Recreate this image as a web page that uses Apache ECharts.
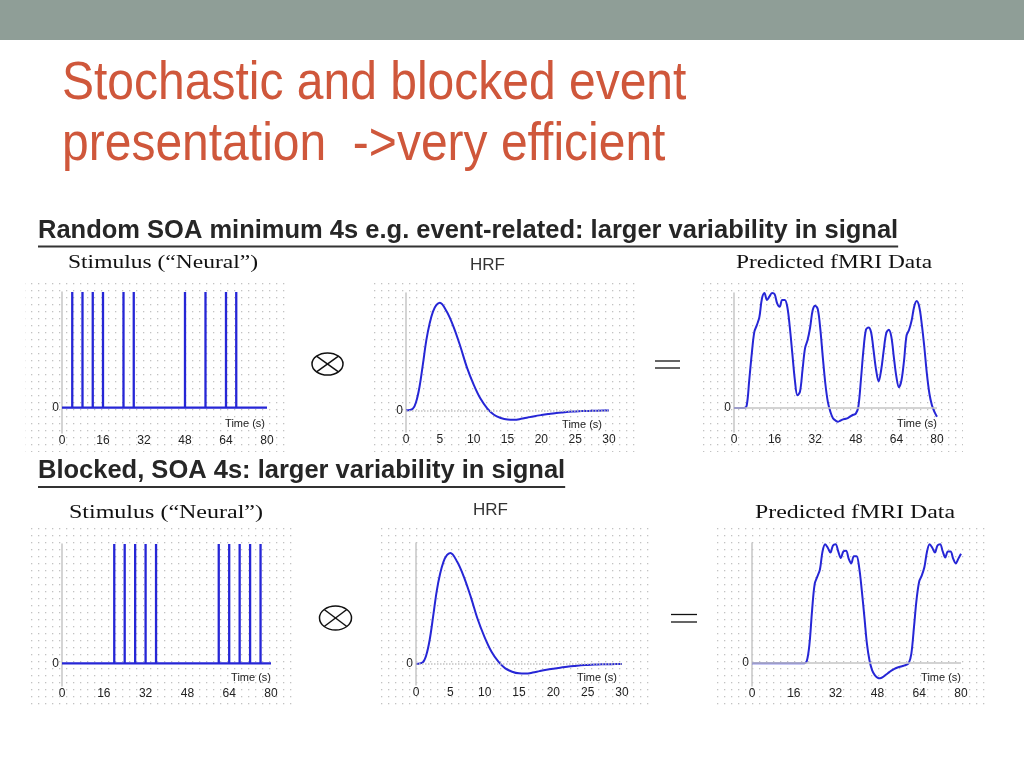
<!DOCTYPE html>
<html><head><meta charset="utf-8">
<script src="https://cdn.jsdelivr.net/npm/echarts@6/dist/echarts.min.js"></script>
<style>html,body{margin:0;padding:0;background:#fff}#c{width:1024px;height:768px}</style>
</head><body><div id="c"></div>
<script>
// ---- data ----
const stimTicks = [0, 16, 32, 48, 64, 80];
const hrfTicks = [0, 5, 10, 15, 20, 25, 30];
const stimRandom = [4, 8, 12, 16, 24, 28, 48, 56, 64, 68];
const stimBlocked = [20, 24, 28, 32, 36, 60, 64, 68, 72, 76];
const hrfT = [0,1,1.5,2,2.5,3,3.5,4,4.5,5,6,7,8,9,10,11,12,13,14,15,16,17,18,19,20,21,22,23,24,25,26,27,28,29,30];
const hrfV = [0,0.015,0.08,0.22,0.43,0.65,0.81,0.92,0.98,1.0,0.92,0.78,0.60,0.40,0.24,0.11,0.02,-0.04,-0.07,-0.085,-0.087,-0.078,-0.065,-0.053,-0.043,-0.034,-0.025,-0.019,-0.012,-0.009,-0.006,-0.004,-0.003,-0.001,0];
const predT = [0,1,2,3,4,5,6,7,8,9,10,11,12,13,14,15,16,17,18,19,20,21,22,23,24,25,26,27,28,29,30,31,32,33,34,35,36,37,38,39,40,41,42,43,44,45,46,47,48,49,50,51,52,53,54,55,56,57,58,59,60,61,62,63,64,65,66,67,68,69,70,71,72,73,74,75,76,77,78,79,80];
const predRandom = [0,0,0,0,0,0.02,0.24,0.47,0.66,0.72,0.79,0.95,1.0,0.94,0.97,1.0,0.99,0.91,0.88,0.94,0.94,0.88,0.70,0.47,0.24,0.11,0.14,0.33,0.52,0.59,0.70,0.85,0.89,0.86,0.69,0.44,0.21,0.05,-0.035,-0.09,-0.11,-0.12,-0.11,-0.10,-0.095,-0.087,-0.072,-0.06,-0.05,0.01,0.24,0.50,0.68,0.70,0.66,0.50,0.33,0.23,0.33,0.50,0.65,0.68,0.62,0.44,0.27,0.18,0.24,0.41,0.63,0.68,0.76,0.88,0.93,0.88,0.73,0.53,0.30,0.125,0.023,-0.035,-0.078];
const predBlocked = [0,0,0,0,0,0,0,0,0,0,0,0,0,0,0,0,0,0,0,0,0,0.02,0.16,0.44,0.66,0.72,0.78,0.93,0.99,0.96,0.92,0.98,0.99,0.93,0.875,0.93,0.935,0.87,0.83,0.89,0.89,0.80,0.61,0.39,0.16,0.02,-0.06,-0.10,-0.12,-0.126,-0.117,-0.10,-0.084,-0.067,-0.053,-0.042,-0.034,-0.028,-0.022,-0.014,0,0.08,0.30,0.53,0.68,0.73,0.80,0.93,0.99,0.96,0.92,0.98,0.99,0.93,0.88,0.93,0.93,0.87,0.83,0.87,0.91];

// ---- helpers ----
const BLUE = '#2626d6';
function spikes(times) {
  const pts = [[0, 0]];
  times.forEach(t => { pts.push([t, 0], [t, 1], [t, 0]); });
  pts.push([80, 0]);
  return pts;
}
function pairs(xs, ys) { return xs.map((x, i) => [x, ys[i]]); }

const mctx = document.createElement('canvas').getContext('2d');
function textW(font, s) { mctx.font = font; return mctx.measureText(s).width; }

const dot = document.createElement('canvas');
dot.width = 7; dot.height = 7;
const dctx = dot.getContext('2d');
dctx.fillStyle = '#ffffff'; dctx.fillRect(0, 0, 7, 7);
dctx.fillStyle = '#c2c2c2'; dctx.fillRect(3, 3, 1.3, 1.3);

// panel layout: grid boxes
const panels = [
  {left: 62,  top: 292, width: 205, height: 141, min: -0.22, max: 1.0,  kind: 'stim', gap: -2, pad: 4},
  {left: 406, top: 293, width: 203, height: 139, min: -0.20, max: 1.09, kind: 'hrf',  gap: -7, pad: 2},
  {left: 734, top: 293, width: 203, height: 139, min: -0.21, max: 1.0,  kind: 'pred', gap: 0,  pad: 3},
  {left: 62,  top: 544, width: 209, height: 142, min: -0.19, max: 1.0,  kind: 'stim', gap: 0,  pad: 3},
  {left: 416, top: 543, width: 206, height: 142, min: -0.19, max: 1.09, kind: 'hrf',  gap: -5, pad: 2},
  {left: 752, top: 543, width: 209, height: 143, min: -0.19, max: 1.0,  kind: 'pred', gap: 0,  pad: 3}
];
const seriesData = [
  spikes(stimRandom), pairs(hrfT, hrfV), pairs(predT, predRandom),
  spikes(stimBlocked), pairs(hrfT, hrfV), pairs(predT, predBlocked)
];

const grid = [], xAxis = [], yAxis = [], series = [];
panels.forEach((p, i) => {
  grid.push({left: p.left, top: p.top, width: p.width, height: p.height});
  const isHrf = p.kind === 'hrf';
  xAxis.push({
    type: 'value', gridIndex: i, min: 0, max: isHrf ? 30 : 80, interval: isHrf ? 5 : 16,
    axisLine: {show: false, onZero: false}, axisTick: {show: false}, splitLine: {show: false},
    axisLabel: {margin: 2, fontSize: 12, color: '#222', fontFamily: 'Liberation Sans'},
    name: 'Time (s)', nameLocation: 'end', nameGap: p.gap, nameMoveOverlap: false,
    nameTextStyle: {fontSize: 11, color: '#222', fontFamily: 'Liberation Sans', align: 'right', verticalAlign: 'bottom', padding: [0, 0, p.pad, 0]}
  });
  yAxis.push({
    type: 'value', gridIndex: i, min: p.min, max: p.max, interval: 0.01,
    axisLine: {show: true, onZero: false, lineStyle: {color: '#c6c6c6', width: 1.5}},
    axisTick: {show: false}, splitLine: {show: false},
    axisLabel: {margin: 3, fontSize: 12, color: '#222', fontFamily: 'Liberation Sans',
      formatter: v => Math.abs(v) < 1e-9 ? '0' : ''}
  });
  const s = {
    type: 'line', xAxisIndex: i, yAxisIndex: i, data: seriesData[i],
    showSymbol: false, symbol: 'none', silent: true, animation: false,
    lineStyle: {color: BLUE, width: p.kind === 'stim' ? 2.3 : 2}, z: 3
  };
  if (p.kind !== 'stim') {
    s.smooth = 0.35;
    s.markLine = {
      silent: true, symbol: 'none', animation: false, label: {show: false},
      lineStyle: {color: '#c4c4c4', width: 1.5, type: isHrf ? 'dotted' : 'solid'},
      data: [{yAxis: 0}]
    };
  }
  series.push(s);
});

// ---- texts ----
const TITLE1 = 'Stochastic and blocked event';
const TITLE2 = 'presentation  ->very efficient';
const SUB1 = 'Random SOA minimum 4s e.g. event-related: larger variability in signal';
const SUB2 = 'Blocked, SOA 4s: larger variability in signal';
const STIM = 'Stimulus (\u201cNeural\u201d)';
const HRF = 'HRF';
const PRED = 'Predicted fMRI Data';

const subFont = 'bold 25.5px "Liberation Sans"';
const sub1W = textW(subFont, SUB1), sub2W = textW(subFont, SUB2);
function serifLabel(txt, x, y, size, targetW) {
  const w = textW(size + 'px "Liberation Serif"', txt);
  return {type: 'text', x: x, y: y, scaleX: targetW / w, z: 10,
    style: {text: txt, fontSize: size, fontFamily: 'Liberation Serif', fill: '#111', align: 'left', verticalAlign: 'middle'}};
}
function otimes(cx, cy, rx, ry) {
  const dx = rx * 0.707, dy = ry * 0.707;
  return [
    {type: 'ellipse', shape: {cx: cx, cy: cy, rx: rx, ry: ry}, style: {fill: 'none', stroke: '#111', lineWidth: 1.5}, z: 10},
    {type: 'line', shape: {x1: cx - dx, y1: cy - dy, x2: cx + dx, y2: cy + dy}, style: {stroke: '#111', lineWidth: 1.5}, z: 10},
    {type: 'line', shape: {x1: cx - dx, y1: cy + dy, x2: cx + dx, y2: cy - dy}, style: {stroke: '#111', lineWidth: 1.5}, z: 10}
  ];
}
function equals(x1, x2, y1, y2) {
  return [
    {type: 'line', shape: {x1: x1, y1: y1, x2: x2, y2: y1}, style: {stroke: '#111', lineWidth: 1.3}, z: 10},
    {type: 'line', shape: {x1: x1, y1: y2, x2: x2, y2: y2}, style: {stroke: '#111', lineWidth: 1.3}, z: 10}
  ];
}
function bg(x, y, w, h) {
  return {type: 'rect', shape: {x: x, y: y, width: w, height: h}, z: -5, silent: true,
    style: {fill: {image: dot, repeat: 'repeat'}}};
}

const elements = [
  {type: 'rect', shape: {x: 0, y: 0, width: 1024, height: 40}, style: {fill: '#8f9e97'}, z: -5},
  bg(25, 278, 265, 174), bg(370, 278, 265, 174), bg(698, 278, 265, 174),
  bg(28, 528, 269, 179), bg(379, 528, 271, 179), bg(716, 528, 272, 179),
  {type: 'text', x: 62, y: 84, scaleY: 1.1, z: 10, style: {text: TITLE1, fontSize: 48, fontFamily: 'Liberation Sans', fill: '#cf573b', align: 'left', verticalAlign: 'middle'}},
  {type: 'text', x: 62, y: 145, scaleY: 1.1, z: 10, style: {text: TITLE2, fontSize: 48, fontFamily: 'Liberation Sans', fill: '#cf573b', align: 'left', verticalAlign: 'middle'}},
  {type: 'text', x: 38, y: 231, z: 10, style: {text: SUB1, font: subFont, fill: '#262626', align: 'left', verticalAlign: 'middle'}},
  {type: 'line', shape: {x1: 38, y1: 246.5, x2: 38 + sub1W, y2: 246.5}, style: {stroke: '#333', lineWidth: 2}, z: 10},
  {type: 'text', x: 38, y: 471, z: 10, style: {text: SUB2, font: subFont, fill: '#262626', align: 'left', verticalAlign: 'middle'}},
  {type: 'line', shape: {x1: 38, y1: 487, x2: 38 + sub2W, y2: 487}, style: {stroke: '#333', lineWidth: 2}, z: 10},
  serifLabel(STIM, 68, 263, 19, 190),
  serifLabel(PRED, 736, 263, 19, 196),
  serifLabel(STIM, 69, 513, 19.5, 194),
  serifLabel(PRED, 755, 513, 19.5, 200),
  {type: 'text', x: 470, y: 265, z: 10, style: {text: HRF, fontSize: 17, fontFamily: 'Liberation Sans', fill: '#333', align: 'left', verticalAlign: 'middle'}},
  {type: 'text', x: 473, y: 510, z: 10, style: {text: HRF, fontSize: 17, fontFamily: 'Liberation Sans', fill: '#333', align: 'left', verticalAlign: 'middle'}}
].concat(otimes(327.5, 364, 15.5, 11), otimes(335.5, 618, 16, 12),
         equals(655, 680, 361, 368), equals(671, 697, 614.5, 622));

const chart = echarts.init(document.getElementById('c'), null, {renderer: 'canvas'});
chart.setOption({
  backgroundColor: '#ffffff',
  animation: false,
  grid: grid, xAxis: xAxis, yAxis: yAxis, series: series,
  graphic: {elements: elements}
});
</script>
</body></html>
